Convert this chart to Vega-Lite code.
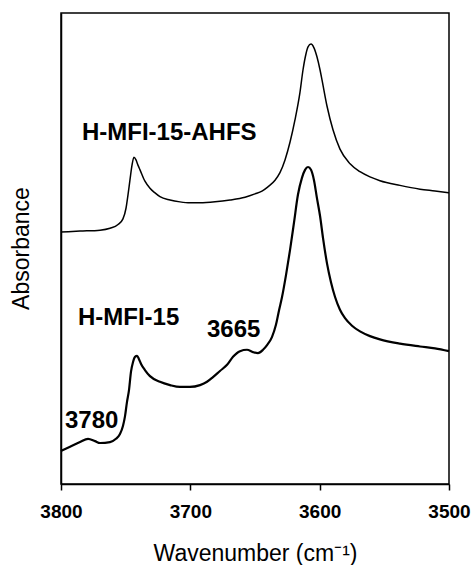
{
  "$schema": "https://vega.github.io/schema/vega-lite/v6.json",
  "width": 388,
  "height": 471,
  "autosize": {"type": "none"},
  "padding": {"left": 61, "top": 13, "right": 22, "bottom": 81},
  "background": "white",
  "config": {
    "font": "Liberation Sans",
    "view": {"stroke": "black", "strokeWidth": 1.5}
  },
  "datasets": {
    "spectra": [
      {"series": "H-MFI-15-AHFS", "wn": 3800.0, "A": 0.535},
      {"series": "H-MFI-15-AHFS", "wn": 3785.3, "A": 0.537},
      {"series": "H-MFI-15-AHFS", "wn": 3769.8, "A": 0.539},
      {"series": "H-MFI-15-AHFS", "wn": 3762.1, "A": 0.543},
      {"series": "H-MFI-15-AHFS", "wn": 3755.9, "A": 0.551},
      {"series": "H-MFI-15-AHFS", "wn": 3752.1, "A": 0.563},
      {"series": "H-MFI-15-AHFS", "wn": 3749.7, "A": 0.586},
      {"series": "H-MFI-15-AHFS", "wn": 3748.2, "A": 0.614},
      {"series": "H-MFI-15-AHFS", "wn": 3746.7, "A": 0.645},
      {"series": "H-MFI-15-AHFS", "wn": 3745.1, "A": 0.677},
      {"series": "H-MFI-15-AHFS", "wn": 3743.6, "A": 0.694},
      {"series": "H-MFI-15-AHFS", "wn": 3742.0, "A": 0.688},
      {"series": "H-MFI-15-AHFS", "wn": 3740.5, "A": 0.677},
      {"series": "H-MFI-15-AHFS", "wn": 3738.9, "A": 0.667},
      {"series": "H-MFI-15-AHFS", "wn": 3735.1, "A": 0.643},
      {"series": "H-MFI-15-AHFS", "wn": 3731.2, "A": 0.628},
      {"series": "H-MFI-15-AHFS", "wn": 3727.3, "A": 0.618},
      {"series": "H-MFI-15-AHFS", "wn": 3723.5, "A": 0.610},
      {"series": "H-MFI-15-AHFS", "wn": 3715.7, "A": 0.603},
      {"series": "H-MFI-15-AHFS", "wn": 3708.0, "A": 0.599},
      {"series": "H-MFI-15-AHFS", "wn": 3700.3, "A": 0.597},
      {"series": "H-MFI-15-AHFS", "wn": 3692.5, "A": 0.597},
      {"series": "H-MFI-15-AHFS", "wn": 3680.9, "A": 0.599},
      {"series": "H-MFI-15-AHFS", "wn": 3669.3, "A": 0.603},
      {"series": "H-MFI-15-AHFS", "wn": 3657.7, "A": 0.609},
      {"series": "H-MFI-15-AHFS", "wn": 3650.0, "A": 0.616},
      {"series": "H-MFI-15-AHFS", "wn": 3644.6, "A": 0.622},
      {"series": "H-MFI-15-AHFS", "wn": 3640.0, "A": 0.631},
      {"series": "H-MFI-15-AHFS", "wn": 3634.5, "A": 0.645},
      {"series": "H-MFI-15-AHFS", "wn": 3630.7, "A": 0.661},
      {"series": "H-MFI-15-AHFS", "wn": 3626.8, "A": 0.688},
      {"series": "H-MFI-15-AHFS", "wn": 3622.9, "A": 0.726},
      {"series": "H-MFI-15-AHFS", "wn": 3619.1, "A": 0.773},
      {"series": "H-MFI-15-AHFS", "wn": 3615.2, "A": 0.832},
      {"series": "H-MFI-15-AHFS", "wn": 3612.9, "A": 0.879},
      {"series": "H-MFI-15-AHFS", "wn": 3610.6, "A": 0.913},
      {"series": "H-MFI-15-AHFS", "wn": 3609.0, "A": 0.928},
      {"series": "H-MFI-15-AHFS", "wn": 3606.7, "A": 0.934},
      {"series": "H-MFI-15-AHFS", "wn": 3604.4, "A": 0.926},
      {"series": "H-MFI-15-AHFS", "wn": 3602.1, "A": 0.907},
      {"series": "H-MFI-15-AHFS", "wn": 3599.7, "A": 0.879},
      {"series": "H-MFI-15-AHFS", "wn": 3598.2, "A": 0.858},
      {"series": "H-MFI-15-AHFS", "wn": 3594.3, "A": 0.802},
      {"series": "H-MFI-15-AHFS", "wn": 3589.7, "A": 0.752},
      {"series": "H-MFI-15-AHFS", "wn": 3584.3, "A": 0.711},
      {"series": "H-MFI-15-AHFS", "wn": 3576.5, "A": 0.680},
      {"series": "H-MFI-15-AHFS", "wn": 3568.8, "A": 0.663},
      {"series": "H-MFI-15-AHFS", "wn": 3561.1, "A": 0.652},
      {"series": "H-MFI-15-AHFS", "wn": 3553.4, "A": 0.644},
      {"series": "H-MFI-15-AHFS", "wn": 3537.9, "A": 0.634},
      {"series": "H-MFI-15-AHFS", "wn": 3522.4, "A": 0.626},
      {"series": "H-MFI-15-AHFS", "wn": 3510.8, "A": 0.622},
      {"series": "H-MFI-15-AHFS", "wn": 3500.0, "A": 0.618},
      {"series": "H-MFI-15", "wn": 3800.0, "A": 0.070},
      {"series": "H-MFI-15", "wn": 3793.0, "A": 0.079},
      {"series": "H-MFI-15", "wn": 3785.3, "A": 0.089},
      {"series": "H-MFI-15", "wn": 3779.1, "A": 0.096},
      {"series": "H-MFI-15", "wn": 3773.7, "A": 0.091},
      {"series": "H-MFI-15", "wn": 3769.8, "A": 0.087},
      {"series": "H-MFI-15", "wn": 3762.1, "A": 0.089},
      {"series": "H-MFI-15", "wn": 3757.5, "A": 0.096},
      {"series": "H-MFI-15", "wn": 3754.4, "A": 0.106},
      {"series": "H-MFI-15", "wn": 3752.1, "A": 0.123},
      {"series": "H-MFI-15", "wn": 3750.5, "A": 0.144},
      {"series": "H-MFI-15", "wn": 3749.0, "A": 0.174},
      {"series": "H-MFI-15", "wn": 3747.4, "A": 0.200},
      {"series": "H-MFI-15", "wn": 3745.9, "A": 0.238},
      {"series": "H-MFI-15", "wn": 3744.3, "A": 0.259},
      {"series": "H-MFI-15", "wn": 3742.8, "A": 0.270},
      {"series": "H-MFI-15", "wn": 3741.2, "A": 0.272},
      {"series": "H-MFI-15", "wn": 3739.7, "A": 0.265},
      {"series": "H-MFI-15", "wn": 3738.1, "A": 0.255},
      {"series": "H-MFI-15", "wn": 3735.1, "A": 0.242},
      {"series": "H-MFI-15", "wn": 3731.2, "A": 0.229},
      {"series": "H-MFI-15", "wn": 3723.5, "A": 0.217},
      {"series": "H-MFI-15", "wn": 3715.7, "A": 0.210},
      {"series": "H-MFI-15", "wn": 3708.0, "A": 0.206},
      {"series": "H-MFI-15", "wn": 3700.3, "A": 0.206},
      {"series": "H-MFI-15", "wn": 3692.5, "A": 0.210},
      {"series": "H-MFI-15", "wn": 3687.1, "A": 0.217},
      {"series": "H-MFI-15", "wn": 3682.5, "A": 0.227},
      {"series": "H-MFI-15", "wn": 3677.1, "A": 0.240},
      {"series": "H-MFI-15", "wn": 3671.6, "A": 0.253},
      {"series": "H-MFI-15", "wn": 3667.0, "A": 0.270},
      {"series": "H-MFI-15", "wn": 3661.6, "A": 0.282},
      {"series": "H-MFI-15", "wn": 3656.2, "A": 0.285},
      {"series": "H-MFI-15", "wn": 3651.5, "A": 0.280},
      {"series": "H-MFI-15", "wn": 3647.7, "A": 0.278},
      {"series": "H-MFI-15", "wn": 3643.8, "A": 0.285},
      {"series": "H-MFI-15", "wn": 3640.7, "A": 0.295},
      {"series": "H-MFI-15", "wn": 3636.9, "A": 0.312},
      {"series": "H-MFI-15", "wn": 3633.8, "A": 0.338},
      {"series": "H-MFI-15", "wn": 3631.4, "A": 0.369},
      {"series": "H-MFI-15", "wn": 3629.1, "A": 0.397},
      {"series": "H-MFI-15", "wn": 3626.0, "A": 0.444},
      {"series": "H-MFI-15", "wn": 3622.9, "A": 0.497},
      {"series": "H-MFI-15", "wn": 3619.8, "A": 0.556},
      {"series": "H-MFI-15", "wn": 3616.8, "A": 0.614},
      {"series": "H-MFI-15", "wn": 3613.7, "A": 0.650},
      {"series": "H-MFI-15", "wn": 3611.3, "A": 0.667},
      {"series": "H-MFI-15", "wn": 3609.0, "A": 0.673},
      {"series": "H-MFI-15", "wn": 3606.7, "A": 0.667},
      {"series": "H-MFI-15", "wn": 3604.4, "A": 0.645},
      {"series": "H-MFI-15", "wn": 3602.1, "A": 0.607},
      {"series": "H-MFI-15", "wn": 3599.7, "A": 0.569},
      {"series": "H-MFI-15", "wn": 3597.4, "A": 0.522},
      {"series": "H-MFI-15", "wn": 3594.3, "A": 0.468},
      {"series": "H-MFI-15", "wn": 3591.2, "A": 0.428},
      {"series": "H-MFI-15", "wn": 3588.1, "A": 0.397},
      {"series": "H-MFI-15", "wn": 3584.3, "A": 0.370},
      {"series": "H-MFI-15", "wn": 3580.4, "A": 0.352},
      {"series": "H-MFI-15", "wn": 3575.0, "A": 0.336},
      {"series": "H-MFI-15", "wn": 3568.8, "A": 0.324},
      {"series": "H-MFI-15", "wn": 3561.1, "A": 0.314},
      {"series": "H-MFI-15", "wn": 3553.4, "A": 0.307},
      {"series": "H-MFI-15", "wn": 3537.9, "A": 0.298},
      {"series": "H-MFI-15", "wn": 3522.4, "A": 0.292},
      {"series": "H-MFI-15", "wn": 3510.8, "A": 0.288},
      {"series": "H-MFI-15", "wn": 3500.0, "A": 0.282}
    ],
    "labels": [
      {"label": "H-MFI-15-AHFS", "wn": 3783.8, "A": 0.730},
      {"label": "H-MFI-15", "wn": 3786.9, "A": 0.338},
      {"label": "3665", "wn": 3687.1, "A": 0.312},
      {"label": "3780", "wn": 3796.9, "A": 0.119}
    ]
  },
  "layer": [
    {
      "data": {"name": "spectra"},
      "mark": {"type": "line", "color": "black", "interpolate": "monotone"},
      "encoding": {
        "x": {
          "field": "wn", "type": "quantitative",
          "scale": {"domain": [3500, 3800], "reverse": true, "nice": false, "zero": false},
          "axis": {
            "title": "Wavenumber (cm⁻¹)",
            "values": [3800, 3700, 3600, 3500],
            "format": "d",
            "grid": false,
            "domainColor": "black", "domainWidth": 1.5,
            "tickColor": "black", "tickWidth": 1.5, "tickSize": 6,
            "labelFont": "Liberation Sans", "labelFontWeight": "bold", "labelFontSize": 19, "labelColor": "black",
            "labelPadding": 12, "labelFlush": false,
            "titleFont": "Liberation Sans", "titleFontWeight": "normal", "titleFontSize": 23, "titleColor": "black",
            "titleBaseline": "alphabetic", "titleY": 76
          }
        },
        "y": {
          "field": "A", "type": "quantitative",
          "scale": {"domain": [0, 1], "nice": false},
          "axis": {
            "title": "Absorbance",
            "labels": false, "ticks": false, "grid": false,
            "domainColor": "black", "domainWidth": 1.5,
            "titleFont": "Liberation Sans", "titleFontWeight": "normal", "titleFontSize": 23, "titleColor": "black",
            "titleBaseline": "alphabetic", "titleAngle": -90, "titleX": -33, "titleY": 235
          }
        },
        "detail": {"field": "series", "type": "nominal"},
        "strokeWidth": {
          "field": "series", "type": "nominal",
          "scale": {"domain": ["H-MFI-15-AHFS", "H-MFI-15"], "range": [1.5, 2.2]},
          "legend": null
        }
      }
    },
    {
      "data": {"name": "labels"},
      "mark": {"type": "text", "align": "left", "baseline": "alphabetic", "font": "Liberation Sans", "fontWeight": "bold", "fontSize": 24, "color": "black"},
      "encoding": {
        "x": {"field": "wn", "type": "quantitative"},
        "y": {"field": "A", "type": "quantitative"},
        "text": {"field": "label", "type": "nominal"}
      }
    }
  ]
}
